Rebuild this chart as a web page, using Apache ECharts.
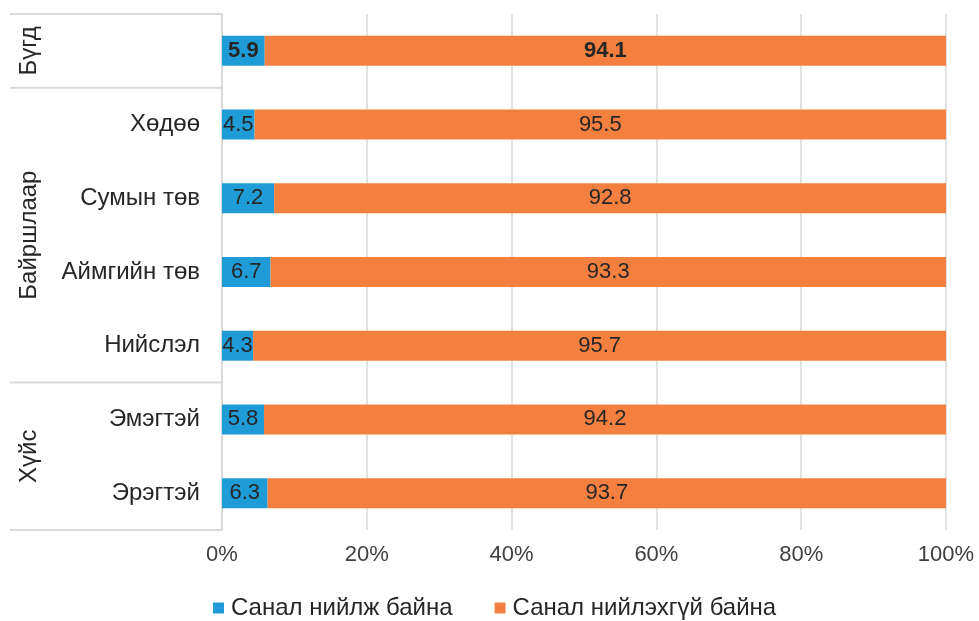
<!DOCTYPE html>
<html>
<head>
<meta charset="utf-8">
<script src="https://cdn.jsdelivr.net/npm/echarts@6/dist/echarts.min.js"></script>
<style>
  html, body { margin: 0; padding: 0; background: #fff; }
  #myChart { width: 979px; height: 621px; }
</style>
</head>
<body>
<div id="myChart"></div>
<script>
// categories from bottom to top
var categories = ['Эрэгтэй', 'Эмэгтэй', 'Нийслэл', 'Аймгийн төв', 'Сумын төв', 'Хөдөө', 'Бүгд'];
var agreeValues = [6.3, 5.8, 4.3, 6.7, 7.2, 4.5, 5.9];
var disagreeValues = [93.7, 94.2, 95.7, 93.3, 92.8, 95.5, 94.1];
var seriesNames = ['Санал нийлж байна', 'Санал нийлэхгүй байна'];
// groups: label, first and last category index
var groupNames = ['Хүйс', 'Байршлаар', 'Бүгд'];
var groupRanges = [[0, 1], [2, 5], [6, 6]];

var font = 'Liberation Sans, Arial, sans-serif';
var txtSize = 24;   // cyrillic labels
var numSize = 22;   // numbers
var myChart = echarts.init(document.getElementById('myChart'));

function makeData(values) {
    return values.map(function (v, i) {
        var item = { value: v };
        if (categories[i] === 'Бүгд') {
            item.label = { fontWeight: 'bold' };
        }
        return item;
    });
}

var option = {
    animation: false,
    color: ['#1f9bd7', '#f48040'],
    textStyle: { fontFamily: font },
    legend: {
        bottom: -4,
        left: 208,
        itemWidth: 11,
        itemHeight: 11,
        itemGap: 42,
        icon: 'rect',
        data: seriesNames,
        textStyle: { fontSize: txtSize, color: '#262626', fontFamily: font, padding: [0, 0, 0, 2] }
    },
    grid: {
        left: 222,
        right: 33,
        top: 14,
        bottom: 91
    },
    xAxis: {
        type: 'value',
        min: 0,
        max: 100,
        interval: 20,
        axisLabel: {
            formatter: '{value}%',
            fontSize: numSize,
            color: '#404040',
            margin: 14
        },
        axisLine: { show: false },
        axisTick: { show: false },
        splitLine: { lineStyle: { color: '#d9d9d9', width: 1.5 } }
    },
    yAxis: {
        type: 'category',
        data: categories,
        axisLine: { lineStyle: { color: '#d9d9d9', width: 2 } },
        axisTick: { show: false },
        axisLabel: {
            fontSize: txtSize,
            color: '#262626',
            margin: 22,
            formatter: function (v) { return v === 'Бүгд' ? '' : v; }
        }
    },
    series: [
        {
            name: seriesNames[0],
            type: 'bar',
            stack: 'total',
            barWidth: 30,
            label: { show: true, position: 'inside', fontSize: numSize, color: '#262626' },
            data: makeData(agreeValues)
        },
        {
            name: seriesNames[1],
            type: 'bar',
            stack: 'total',
            barWidth: 30,
            label: { show: true, position: 'inside', fontSize: numSize, color: '#262626' },
            data: makeData(disagreeValues)
        }
    ]
};
myChart.setOption(option);

// group labels and separators on the left, placed through the axis scale
function drawGroups() {
    var x0 = 10;
    var x1 = myChart.convertToPixel({ xAxisIndex: 0 }, 0);
    var step = Math.abs(myChart.convertToPixel({ yAxisIndex: 0 }, categories[0]) -
        myChart.convertToPixel({ yAxisIndex: 0 }, categories[1]));
    var els = [];
    groupRanges.forEach(function (r, gi) {
        var yBottom = myChart.convertToPixel({ yAxisIndex: 0 }, categories[r[0]]) + step / 2;
        var yTop = myChart.convertToPixel({ yAxisIndex: 0 }, categories[r[1]]) - step / 2;
        els.push({
            type: 'line',
            shape: { x1: x0, y1: yBottom, x2: x1, y2: yBottom },
            style: { stroke: '#d9d9d9', lineWidth: 2 }
        });
        if (gi === groupRanges.length - 1) {
            els.push({
                type: 'line',
                shape: { x1: x0, y1: yTop, x2: x1, y2: yTop },
                style: { stroke: '#d9d9d9', lineWidth: 2 }
            });
        }
        els.push({
            type: 'text',
            x: 29,
            y: (yTop + yBottom) / 2,
            rotation: Math.PI / 2,
            style: {
                text: groupNames[gi],
                fontSize: txtSize,
                fontFamily: font,
                fill: '#262626',
                align: 'center',
                verticalAlign: 'middle'
            }
        });
    });
    myChart.setOption({ graphic: els });
}
drawGroups();
</script>
</body>
</html>
